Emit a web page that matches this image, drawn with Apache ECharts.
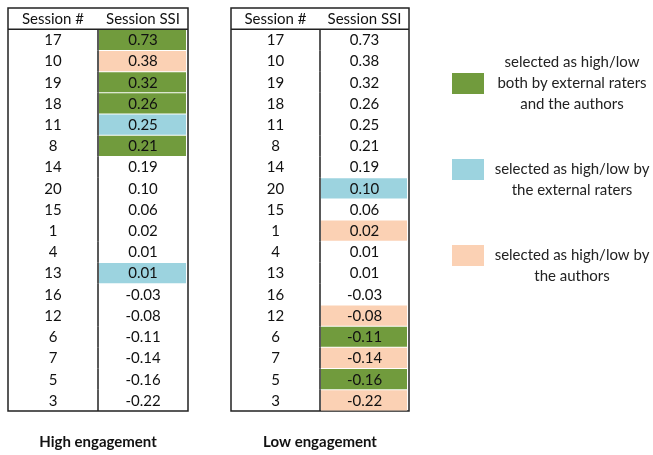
<!DOCTYPE html>
<html>
<head>
<meta charset="utf-8">
<script src="https://cdn.jsdelivr.net/npm/echarts@6/dist/echarts.min.js"></script>
<style>
html,body{margin:0;padding:0;background:#fff}
#container{width:653px;height:455px}
</style>
</head>
<body>
<div id="container"></div>
<script>
var sessions = [17,10,19,18,11,8,14,20,15,1,4,13,16,12,6,7,5,3];
var ssi = [0.73,0.38,0.32,0.26,0.25,0.21,0.19,0.10,0.06,0.02,0.01,0.01,-0.03,-0.08,-0.11,-0.14,-0.16,-0.22];
var headers = ['Session #','Session SSI'];
var tableNames = ['High engagement','Low engagement'];
// sessions picked per rater group, high table then low table
var bothPicked = [[17,19,18,8],[6,5]];
var externalPicked = [[11,13],[20]];
var authorsPicked = [[10],[1,12,7,3]];
var groupNames = ['both','external','authors'];
var groupLines = [
	['selected as high/low','both by external raters','and the authors'],
	['','selected as high/low by','the external raters'],
	['','selected as high/low by','the authors']
];
var groupColors = ['#719b3d','#9cd3df','#fbd1b4'];

var myChart = echarts.init(document.getElementById('container'));
var FONT = 'Lato, "Open Sans", sans-serif';
var LINE = '#222';

function rowOf(s) { return sessions.indexOf(s) + 1; } // row 0 is the header

function fillSeries(t, g, picked) {
	return {
		name: groupNames[g],
		type: 'custom',
		xAxisIndex: t,
		yAxisIndex: t,
		z: 2,
		silent: true,
		color: groupColors[g],
		itemStyle: {color: groupColors[g]},
		data: picked[t].map(function (s) { return [1, rowOf(s)]; }),
		renderItem: function (params, api) {
			var p = api.coord([api.value(0), api.value(1)]);
			var s = api.size([1, 1]);
			return {
				type: 'rect',
				shape: {x: p[0] - s[0] / 2 + 1, y: p[1] - s[1] / 2 + 0.5, width: s[0] - 3, height: s[1] - 1},
				style: {fill: groupColors[g]}
			};
		}
	};
}

function textSeries(t) {
	var cells = [{col: 0, row: 0, text: headers[0], head: true}, {col: 1, row: 0, text: headers[1], head: true}];
	sessions.forEach(function (s, i) {
		cells.push({col: 0, row: i + 1, text: String(s)});
		cells.push({col: 1, row: i + 1, text: ssi[i].toFixed(2)});
	});
	return {
		name: 'cells' + t,
		type: 'custom',
		xAxisIndex: t,
		yAxisIndex: t,
		z: 3,
		silent: true,
		data: cells.map(function (c) { return [c.col, c.row]; }),
		renderItem: function (params, api) {
			var c = cells[params.dataIndex];
			var p = api.coord([c.col, c.row]);
			var s = api.size([1, 1]);
			var kids = [{
				type: 'text',
				style: {text: c.text, x: p[0], y: p[1] + 0.5, align: 'center', verticalAlign: 'middle',
					font: '15px ' + FONT, fill: '#111'}
			}];
			if (c.head) {
				kids.push({type: 'line', shape: {x1: p[0] - s[0] / 2, y1: p[1] + s[1] / 2, x2: p[0] + s[0] / 2, y2: p[1] + s[1] / 2},
					style: {stroke: LINE, lineWidth: 1.5}});
			} else if (c.col === 0) {
				kids.push({type: 'line', shape: {x1: p[0] + s[0] / 2, y1: p[1] - s[1] / 2, x2: p[0] + s[0] / 2, y2: p[1] + s[1] / 2},
					style: {stroke: LINE, lineWidth: 1.5}});
			}
			return {type: 'group', children: kids};
		}
	};
}

var rows = ['hdr'].concat(sessions.map(String));
var grids = [{left: 8, top: 8, width: 180, height: 405}, {left: 231, top: 8, width: 178, height: 405}];

var series = [];
[0, 1].forEach(function (t) {
	series.push(fillSeries(t, 0, bothPicked));
	series.push(fillSeries(t, 1, externalPicked));
	series.push(fillSeries(t, 2, authorsPicked));
	series.push(textSeries(t));
});

myChart.setOption({
	animation: false,
	legend: {
		data: groupNames,
		orient: 'vertical',
		left: 447,
		top: 50,
		itemWidth: 32,
		itemHeight: 21,
		itemGap: 29,
		icon: 'rect',
		selectedMode: false,
		formatter: function (name) {
			var lines = groupLines[groupNames.indexOf(name)];
			return lines.map(function (l) { return '{a|' + (l || ' ') + '}'; }).join('\n');
		},
		textStyle: {
			rich: {a: {width: 166, align: 'center', lineHeight: 21, fontSize: 15, fontFamily: FONT, color: '#222'}}
		}
	},
	grid: grids.map(function (g) {
		return {left: g.left, top: g.top, width: g.width, height: g.height, show: true,
			borderColor: LINE, borderWidth: 1.5, backgroundColor: '#fff', containLabel: false};
	}),
	xAxis: [0, 1].map(function (t) {
		return {
			type: 'category', gridIndex: t, data: headers,
			axisLine: {show: false}, axisTick: {show: false}, axisLabel: {show: false}, splitLine: {show: false},
			name: tableNames[t], nameLocation: 'middle', nameGap: 24,
			nameTextStyle: {fontFamily: FONT, fontSize: 15, fontWeight: 'bold', color: '#111'}
		};
	}),
	yAxis: [0, 1].map(function (t) {
		return {
			type: 'category', gridIndex: t, data: rows, inverse: true,
			axisLine: {show: false}, axisTick: {show: false}, axisLabel: {show: false}, splitLine: {show: false}
		};
	}),
	series: series
});
</script>
</body>
</html>
